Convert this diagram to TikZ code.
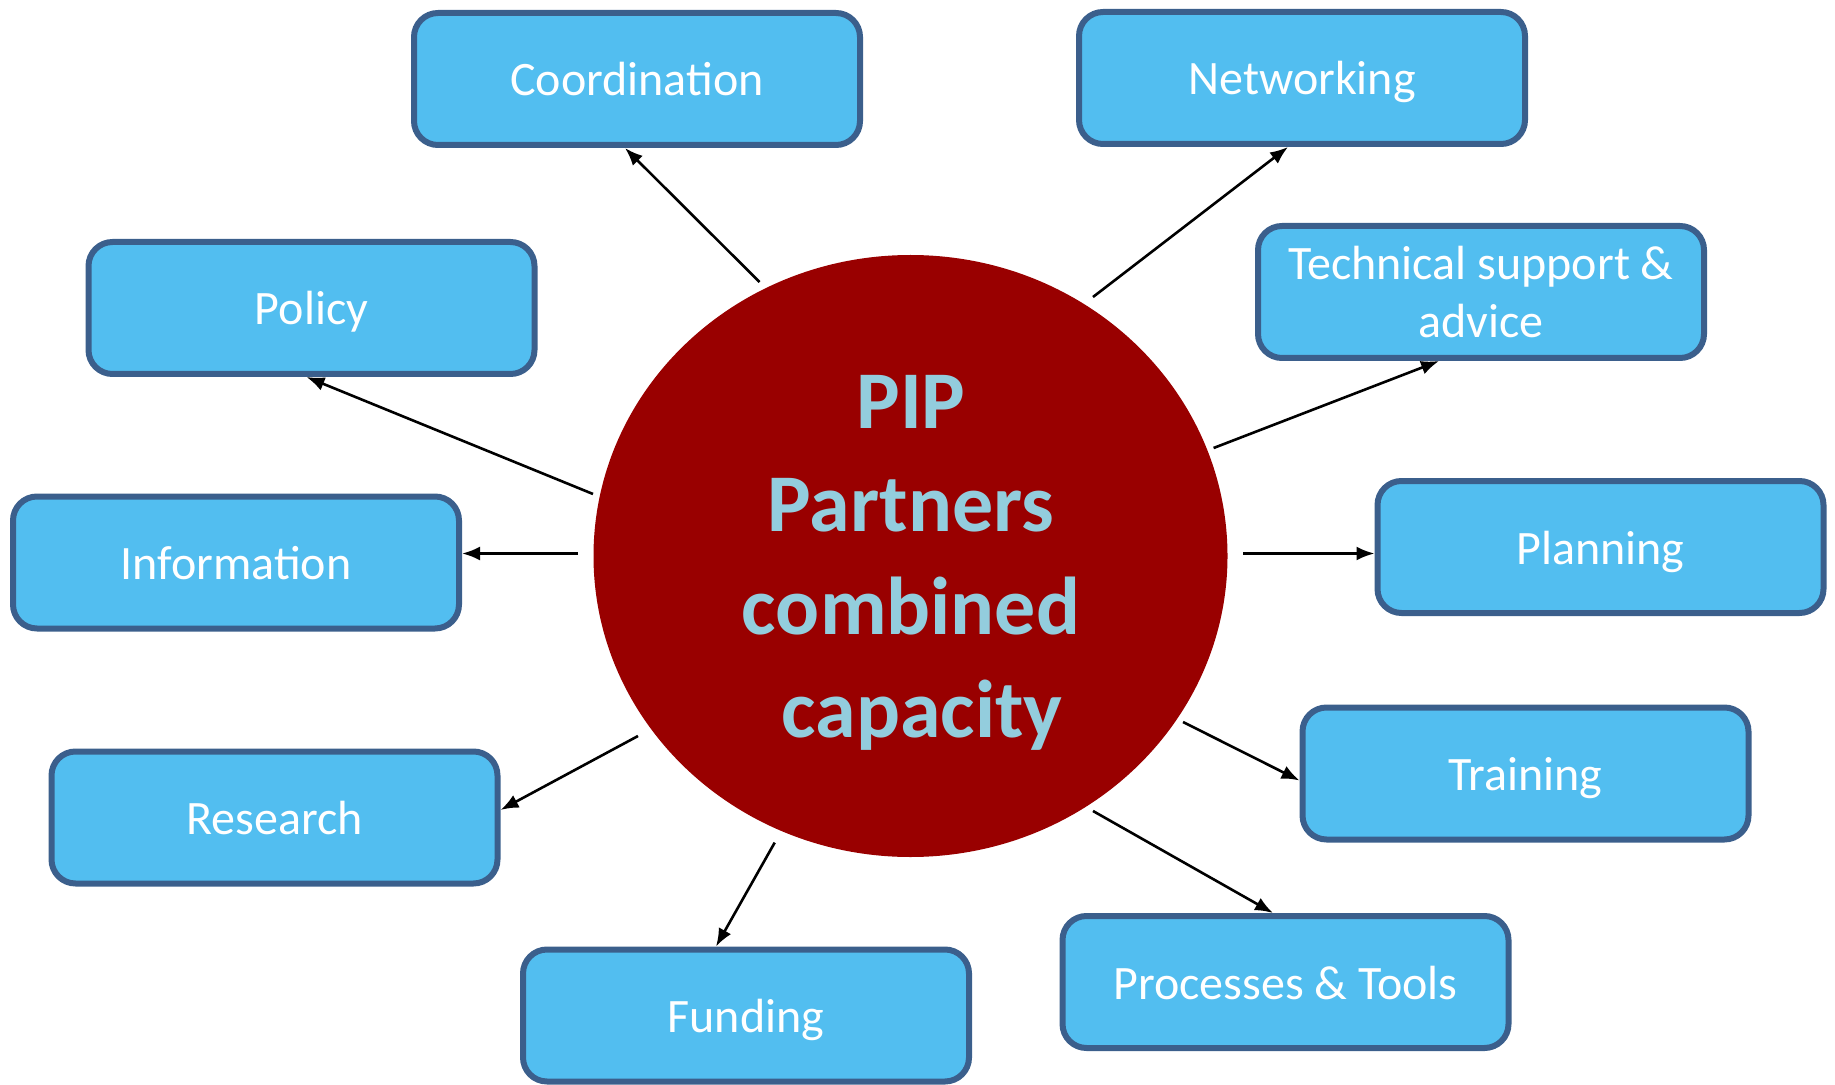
\documentclass[tikz,border=0pt]{standalone}
\usepackage{fontspec}
\setmainfont{Carlito}
\usetikzlibrary{calc,arrows.meta,shapes.geometric}
\definecolor{boxfill}{HTML}{52BEF0}
\definecolor{boxline}{HTML}{3B5F8C}
\definecolor{hubred}{HTML}{990000}
\definecolor{hubtext}{HTML}{93CDDD}
\begin{document}
\begin{tikzpicture}[x=0.5pt,y=-0.5pt,
  boxbase/.style={draw=boxline, fill=boxfill, line width=3pt, rounded corners=12pt,
    minimum width=223pt, minimum height=66pt, inner sep=0pt, text=white,
    font=\fontsize{24}{28.6}\selectfont},
  capbox/.style={boxbase, text height=17pt, text depth=0pt},
  twobox/.style={boxbase, align=center},
  link/.style={line width=1.3pt, -{Latex[length=9pt,width=7pt]}}]
\useasboundingbox (0,0) rectangle (1835,1085);

\node[ellipse, fill=hubred, minimum width=317pt, minimum height=301pt, inner sep=0pt] (hub) at (910.5,556) {};
\node[text=hubtext, font=\fontsize{41}{51.5}\bfseries\selectfont, align=center, inner sep=0pt] (hubtxt) at (911,563)
  {PIP\\Partners\\combined\\\hspace*{0.27em}capacity};

\node[capbox] (coord) at (637,79) {Coordination};
\node[capbox] (netw) at (1302,78) {Networking};
\node[capbox] (policy) at (311.5,308) {Policy};
\node[twobox] (tech) at (1481,292) {Technical support \&\\advice};
\node[capbox] (info) at (236,562.5) {Information};
\node[capbox] (plan) at (1600.5,547) {Planning};
\node[capbox] (res) at (274.5,817.5) {Research};
\node[capbox] (train) at (1525.5,773.5) {Training};
\node[capbox] (fund) at (746,1015.5) {Funding};
\node[capbox] (proc) at (1285.5,982) {Processes \& Tools};

\coordinate (sCoord) at (759.5,282);
\coordinate (sNetw) at (1093,297);
\coordinate (sPolicy) at (593,494);
\coordinate (sTech) at (1213.6,448);
\coordinate (sInfo) at (578,553.5);
\coordinate (sPlan) at (1243,553.5);
\coordinate (sRes) at (638,736);
\coordinate (sTrain) at (1183,722);
\coordinate (sFund) at (774.7,842.6);
\coordinate (sProc) at (1093,811);

\draw[link] (sCoord) -- ($(coord.south)+(-12,0)$);
\draw[link] (sNetw) -- ($(netw.south)+(-14,0)$);
\draw[link] (sPolicy) -- ($(policy.south)+(-5,0)$);
\draw[link] (sTech) -- ($(tech.south)+(-42,0)$);
\draw[link] (sInfo) -- ($(info.east)+(0,-9)$);
\draw[link] (sPlan) -- ($(plan.west)+(0,6.5)$);
\draw[link] (sRes) -- ($(res.east)+(0,-7.5)$);
\draw[link] (sTrain) -- ($(train.west)+(0,7)$);
\draw[link] (sFund) -- ($(fund.north)+(-30,0)$);
\draw[link] (sProc) -- ($(proc.north)+(-12.5,0)$);
\end{tikzpicture}
\end{document}
